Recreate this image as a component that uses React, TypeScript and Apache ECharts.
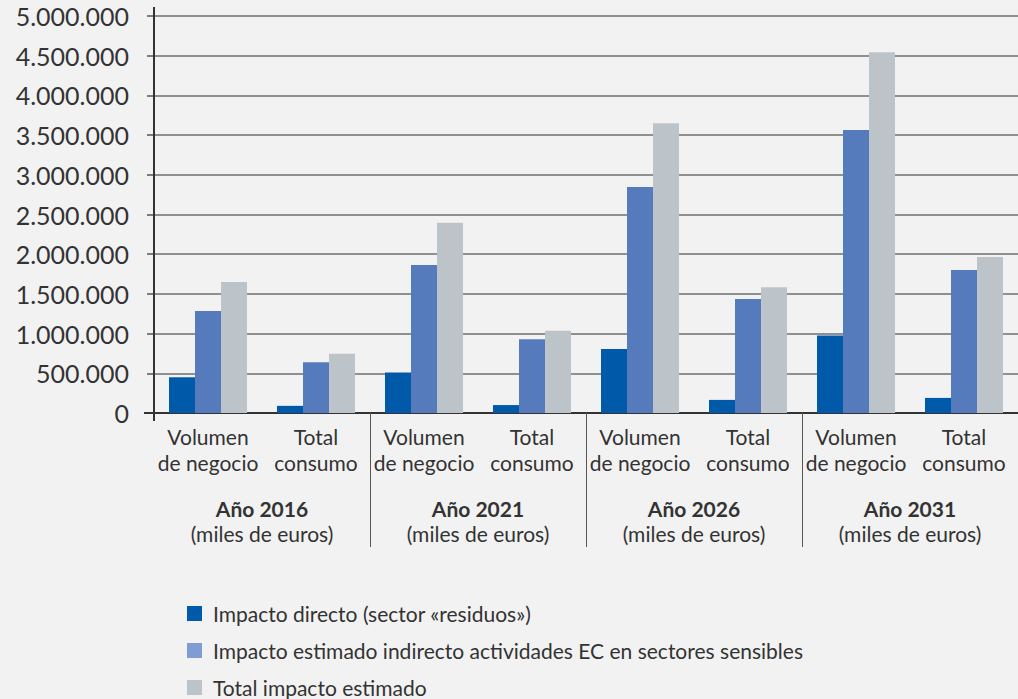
import React, { useEffect, useRef } from "react";
import * as echarts from "echarts";

const groupYears = ["Año 2016", "Año 2021", "Año 2026", "Año 2031"];
const groupUnit = "(miles de euros)";
const subCategories = ["Volumen\nde negocio", "Total\nconsumo"];
const categories = groupYears.flatMap((y) => subCategories.map((s) => y + "|" + s));

const seriesNames = [
  "Impacto directo (sector «residuos»)",
  "Impacto estimado indirecto actividades EC en sectores sensibles",
  "Total impacto estimado",
];
const directo = [450000, 90000, 510000, 100000, 805000, 165000, 975000, 190000];
const indirecto = [1285000, 640000, 1865000, 930000, 2845000, 1435000, 3565000, 1800000];
const totalImpacto = [1650000, 745000, 2395000, 1035000, 3650000, 1585000, 4545000, 1965000];

const barColors = ["#005aa9", "#557bbd", "#bcc4ca"];
const legendColors = ["#005aa9", "#7f9dd3", "#bcc4ca"];

const FONT = "Lato";

function fmt(v: number): string {
  return String(v).replace(/\B(?=(\d{3})+(?!\d))/g, ".");
}

export default function App() {
  const ref = useRef<HTMLDivElement>(null);
  useEffect(() => {
    if (!ref.current) return;
    const chart = echarts.init(ref.current, null, { renderer: "svg" });
    const values = [directo, indirecto, totalImpacto];
    chart.setOption({
      animation: false,
      backgroundColor: "#f2f2f2",
      textStyle: { fontFamily: FONT },
      grid: { left: 154, right: 0, top: 16, bottom: 286, containLabel: false },
      legend: {
        orient: "vertical",
        left: 187,
        top: 603,
        padding: 0,
        width: 820,
        height: 96,
        itemWidth: 15,
        itemHeight: 15,
        itemGap: 16,
        icon: "rect",
        selectedMode: false,
        textStyle: { fontFamily: FONT, fontSize: 21, color: "#333", lineHeight: 21, padding: [0, 0, 0, 6] },
        data: seriesNames.map((n, i) => ({ name: n, itemStyle: { color: legendColors[i] } })),
      },
      xAxis: [
        {
          type: "category",
          data: categories,
          axisLine: { show: true, lineStyle: { color: "#333", width: 2 } },
          axisTick: { show: false },
          axisLabel: {
            interval: 0,
            margin: 10,
            fontFamily: FONT,
            fontSize: 21,
            lineHeight: 26,
            color: "#333",
            formatter: (v: string) => v.split("|")[1],
          },
        },
        {
          type: "category",
          data: groupYears,
          position: "bottom",
          axisLine: { show: false },
          axisTick: {
            show: true,
            length: 134,
            interval: (index: number) => index !== 0,
            lineStyle: { color: "#555", width: 1 },
          },
          axisLabel: {
            interval: 0,
            margin: 83,
            formatter: (v: string) => "{b|" + v + "}\n{n|" + groupUnit + "}",
            rich: {
              b: { fontFamily: FONT, fontSize: 21, fontWeight: "bold", lineHeight: 25, color: "#333" },
              n: { fontFamily: FONT, fontSize: 21, lineHeight: 25, color: "#333" },
            },
          },
        },
      ],
      yAxis: {
        type: "value",
        min: 0,
        max: 5000000,
        interval: 500000,
        axisLine: { show: true, lineStyle: { color: "#333", width: 2 } },
        axisTick: { show: true, length: 7, lineStyle: { color: "#555", width: 1.5 } },
        splitLine: { show: true, lineStyle: { color: "#6e6e6e", width: 1.5 } },
        axisLabel: { margin: 25, fontFamily: FONT, fontSize: 25, color: "#333", formatter: (v: number) => fmt(v) },
      },
      series: seriesNames.map((n, i) => ({
        name: n,
        type: "bar",
        xAxisIndex: 0,
        barWidth: 26,
        barGap: "0%",
        itemStyle: { color: barColors[i] },
        data: values[i],
      })),
      graphic: [
        { type: "line", shape: { x1: 154, y1: 7, x2: 154, y2: 421 }, style: { stroke: "#333", lineWidth: 2 }, z: 10 },
        { type: "line", shape: { x1: 144, y1: 413, x2: 154, y2: 413 }, style: { stroke: "#333", lineWidth: 2 }, z: 10 },
      ],
    });
    return () => chart.dispose();
  }, []);
  return <div ref={ref} style={{ position: "absolute", left: 0, top: 0, width: 1018, height: 699 }} />;
}
